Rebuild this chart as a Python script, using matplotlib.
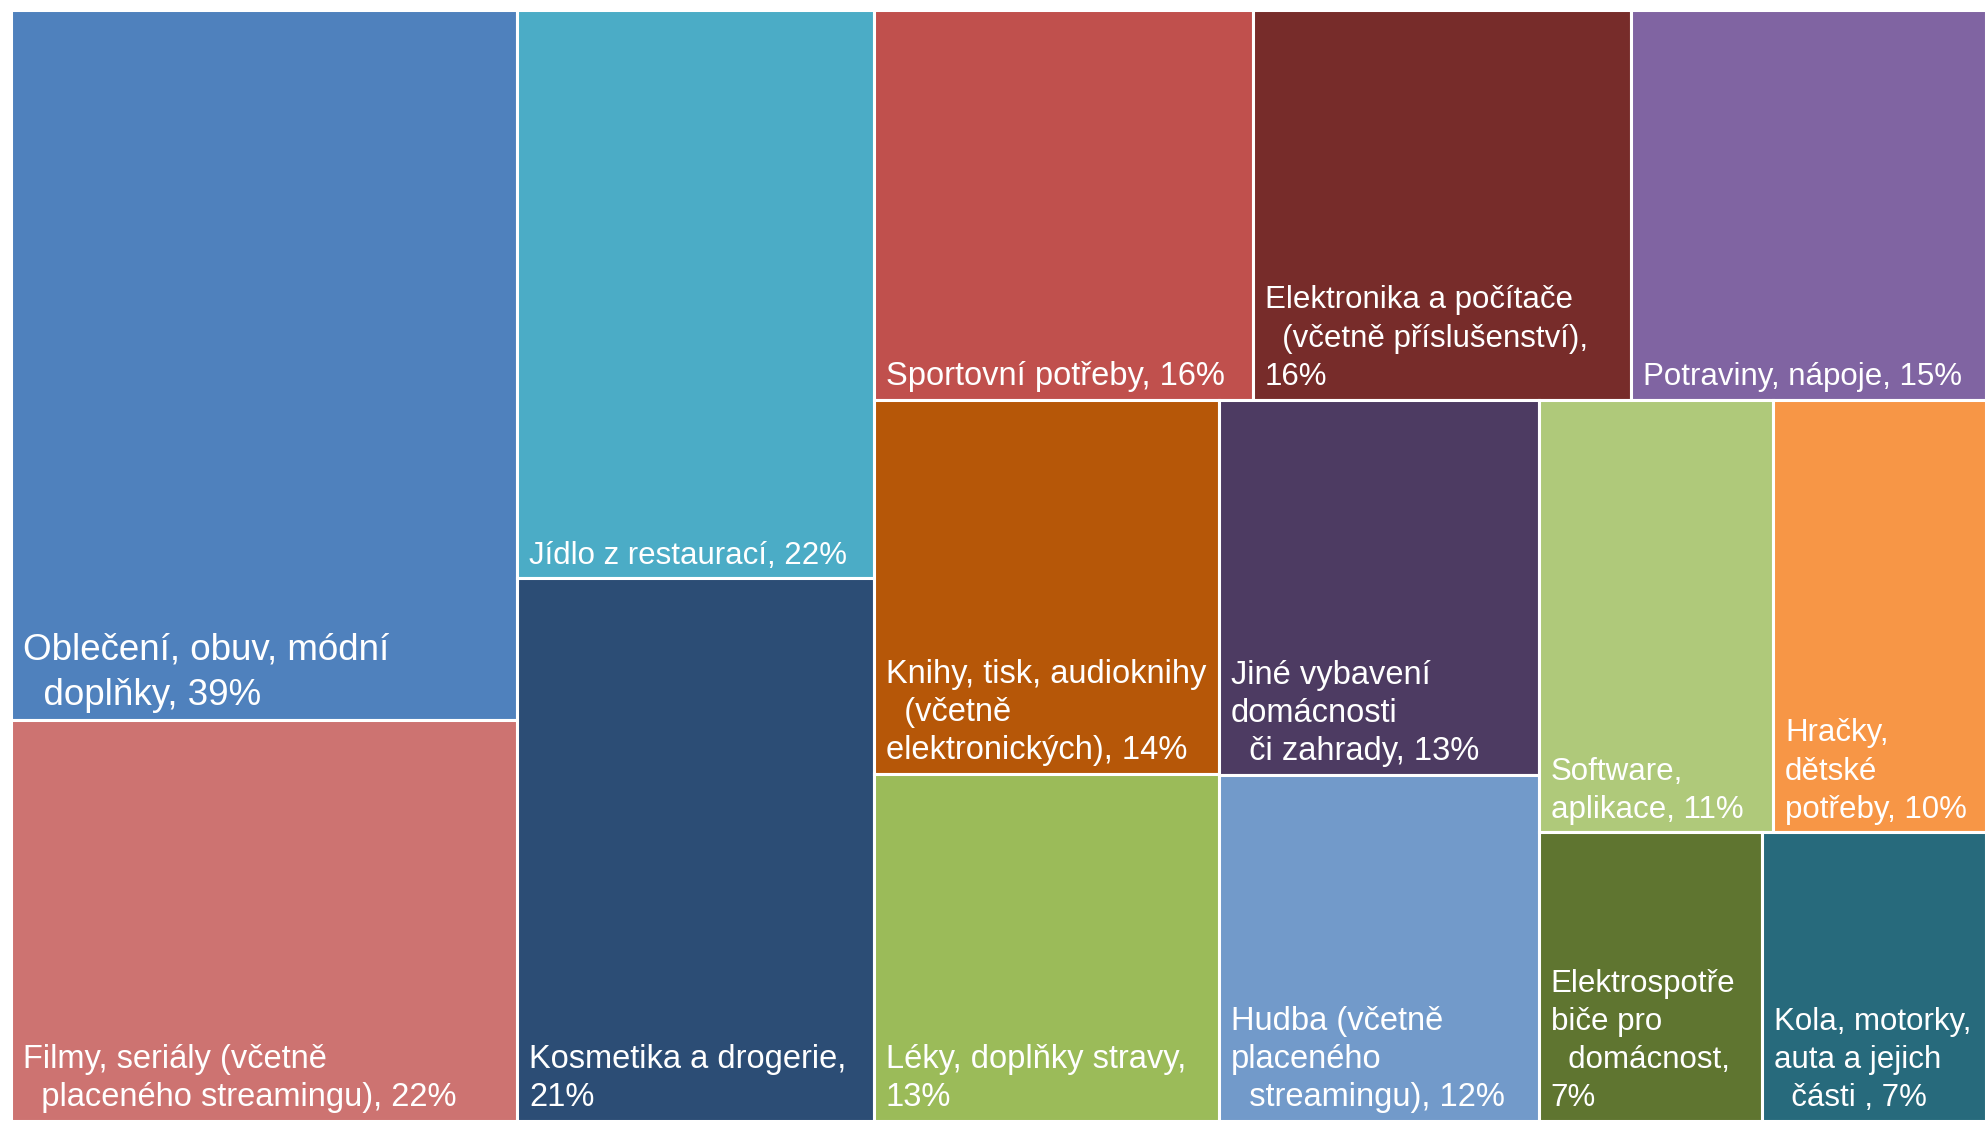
import matplotlib
matplotlib.use("Agg")
import matplotlib.pyplot as plt
from matplotlib.patches import Rectangle
from matplotlib import font_manager

# categories (wrapped as in the source), shares in %
labels = [
    "Oblečení, obuv, módní\n  doplňky",
    "Filmy, seriály (včetně\n  placeného streamingu)",
    "Jídlo z restaurací",
    "Kosmetika a drogerie,\n",
    "Sportovní potřeby",
    "Elektronika a počítače\n  (včetně příslušenství),\n",
    "Potraviny, nápoje",
    "Knihy, tisk, audioknihy\n  (včetně\nelektronických)",
    "Léky, doplňky stravy,\n",
    "Jiné vybavení\ndomácnosti\n  či zahrady",
    "Hudba (včetně\nplaceného\n  streamingu)",
    "Software,\naplikace",
    "Hračky,\ndětské\npotřeby",
    "Elektrospotře\nbiče pro\n  domácnost,\n",
    "Kola, motorky,\nauta a jejich\n  části ",
]
values = [39, 22, 22, 21, 16, 16, 15, 14, 13, 13, 12, 11, 10, 7, 7]
colors = ["#4F81BD", "#CD7371", "#4BACC6", "#2C4D75", "#C0504D", "#772C2A",
          "#8064A2", "#B65708", "#9BBB59", "#4D3B62", "#729ACA", "#AFC97A",
          "#F79646", "#5F7530", "#276A7C"]
narrow = [True, True, False, True, True, False, False, True, True, True,
          True, False, False, False, False]

# strips of the squarified layout: orientation + members
strips = [("col", [0, 1]), ("col", [2, 3]), ("row", [4, 5, 6]),
          ("col", [7, 8]), ("col", [9, 10]), ("row", [11, 12]), ("row", [13, 14])]

names = {f.name for f in font_manager.fontManager.ttflist}
NARROW = "Liberation Sans Narrow" if "Liberation Sans Narrow" in names else "Liberation Sans"
NORMAL = "Liberation Sans"

W, H = 1975.0, 1111.0


def layout(values, strips, W, H):
    total = float(sum(values))
    x, y, dx, dy = 0.0, 0.0, W, H
    area = W * H
    rects = {}
    for kind, idx in strips:
        s = sum(values[i] for i in idx) * area / total
        if kind == "col":
            w = s / dy
            yy = y
            for i in idx:
                h = values[i] * area / total / w
                rects[i] = (x, yy, w, h)
                yy += h
            x += w
            dx -= w
        else:
            h = s / dx
            xx = x
            for i in idx:
                w = values[i] * area / total / h
                rects[i] = (xx, y, w, h)
                xx += w
            y += h
            dy -= h
    return rects


rects = layout(values, strips, W, H)

fig = plt.figure(figsize=(19.86, 11.21), dpi=100)
ax = fig.add_axes([11 / 1986, 0, W / 1986, H / 1121])
ax.set_xlim(0, W)
ax.set_ylim(H, 0)
ax.axis("off")

for i, (x, y, w, h) in rects.items():
    ax.add_patch(Rectangle((x, y), w, h, facecolor=colors[i],
                           edgecolor="white", linewidth=2.2))
    name = labels[i]
    text = name + f"{values[i]}%" if name.endswith("\n") else f"{name}, {values[i]}%"
    if i == 0:
        size, ls = 26.5, 1.38
    elif narrow[i]:
        size, ls = 23.5, 1.3
    else:
        size, ls = 22.5, 1.36
    ax.annotate(text, xy=(x, y + h), xytext=(8.6, 5.5), textcoords="offset points",
                ha="left", va="bottom", color="white", fontsize=size,
                family=NARROW if narrow[i] else NORMAL, linespacing=ls)

fig.savefig("out.png", dpi=100, facecolor="white")
